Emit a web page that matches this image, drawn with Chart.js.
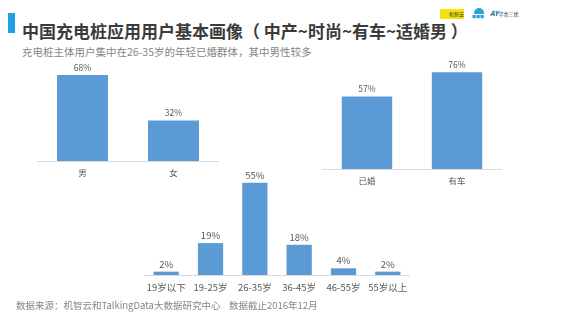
<!DOCTYPE html>
<html>
<head>
<meta charset="utf-8">
<script src="https://cdn.jsdelivr.net/npm/chart.js@4.4.0/dist/chart.umd.min.js"></script>
<style>
  body { margin: 0; background: #fff; font-family: "Noto Sans CJK SC", sans-serif; }
  #page { position: relative; width: 569px; height: 322px; overflow: hidden; }
  .box { position: absolute; }
  canvas { position: absolute; }
  #title { left: 22px; top: 19px; font-size: 17px; font-weight: bold; color: #3b3b3b; white-space: pre; line-height: 24px; }
  #sub { left: 22px; top: 44px; font-size: 10.5px; color: #858585; white-space: nowrap; }
  #note { left: 16px; top: 298px; font-size: 9.5px; color: #858585; white-space: nowrap; }
</style>
</head>
<body>
<div id="page">
  <div class="box" style="left:8px;top:13px;width:7px;height:20px;background:#1ea1e6"></div>
  <div class="box" id="title">中国充电桩应用用户基本画像（ 中产~时尚~有车~适婚男 ）</div>
  <div class="box" id="sub">充电桩主体用户集中在26-35岁的年轻已婚群体，其中男性较多</div>
  <div class="box" style="left:440px;top:9px;width:24px;height:10px;background:#f5e10f;font-size:5px;line-height:10px;color:#333;text-indent:9px;white-space:nowrap;overflow:hidden">机智云</div>
  <div class="box" style="left:474px;top:8px;width:10px;height:6px;background:#29a3dd;border-radius:5px 5px 0 0"></div>
  <div class="box" style="left:472px;top:14px;width:14px;font-size:4px;color:#29a3dd;white-space:nowrap">■■■</div>
  <div class="box" style="left:490px;top:8px;font-size:7px;font-weight:bold;font-style:italic;color:#1a5fa8;white-space:nowrap">AY<span style="font-size:5px;font-style:normal;font-weight:normal;color:#335">华青三优</span></div>
  <canvas id="c1" style="left:37px;top:61px" width="182" height="130"></canvas>
  <canvas id="c2" style="left:322px;top:52px" width="180" height="147"></canvas>
  <canvas id="c3" style="left:140px;top:171px" width="274" height="134"></canvas>
  <div class="box" id="note">数据来源：机智云和TalkingData大数据研究中心&nbsp;&nbsp;&nbsp;&nbsp;数据截止2016年12月</div>
</div>
<script>
// 性别
const genderLabels = ['男', '女'];
const genderValues = [68, 32];
// 婚姻 / 有车
const statusLabels = ['已婚', '有车'];
const statusValues = [57, 76];
// 年龄段
const ageLabels = ['19岁以下', '19-25岁', '26-35岁', '36-45岁', '46-55岁', '55岁以上'];
const ageValues = [2, 19, 55, 18, 4, 2];

const BLUE = '#5b9bd5';
const GREY = '#595959';

// draws "xx%" above each bar
const valueLabels = {
  id: 'valueLabels',
  afterDatasetsDraw(chart, args, opts) {
    const ctx = chart.ctx;
    const meta = chart.getDatasetMeta(0);
    ctx.save();
    ctx.fillStyle = GREY;
    ctx.font = opts.size + 'px "Noto Sans CJK SC", sans-serif';
    ctx.textAlign = 'center';
    ctx.textBaseline = 'bottom';
    meta.data.forEach((bar, i) => {
      ctx.fillText(chart.data.datasets[0].data[i] + '%', bar.x, bar.y - opts.gap);
    });
    ctx.restore();
  }
};

function makeBar(id, labels, values, yMax, barPct, fontSize) {
  return new Chart(document.getElementById(id), {
    type: 'bar',
    data: {
      labels: labels,
      datasets: [{
        data: values,
        backgroundColor: BLUE,
        categoryPercentage: 1,
        barPercentage: barPct
      }]
    },
    options: {
      responsive: false,
      animation: false,
      layout: { padding: 0 },
      plugins: {
        legend: { display: false },
        tooltip: { enabled: false },
        valueLabels: { size: fontSize, gap: 3 }
      },
      scales: {
        x: {
          grid: { display: false, drawTicks: false },
          border: { display: true, color: '#d9d9d9', width: 1 },
          ticks: {
            color: GREY,
            padding: 7,
            font: { size: fontSize, family: '"Noto Sans CJK SC", sans-serif' }
          },
          afterFit(scale) { scale.height = 30; }
        },
        y: {
          display: false,
          min: 0,
          max: yMax
        }
      }
    },
    plugins: [valueLabels]
  });
}

makeBar('c1', genderLabels, genderValues, 79, 0.56, 8.5);
makeBar('c2', statusLabels, statusValues, 92, 0.56, 8.5);
makeBar('c3', ageLabels, ageValues, 62, 0.57, 9.5);
</script>
</body>
</html>
